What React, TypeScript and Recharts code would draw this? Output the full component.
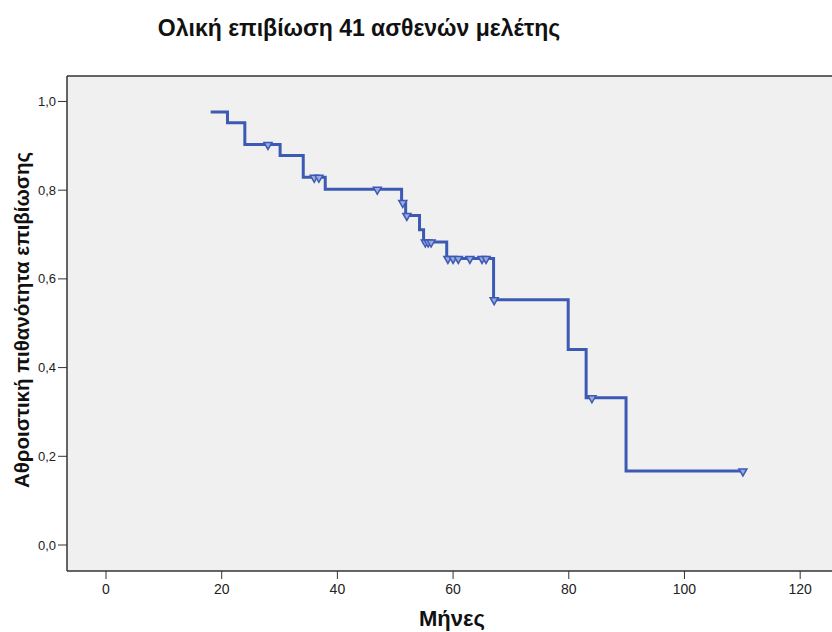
import { CartesianGrid, Label, Line, LineChart, ReferenceLine, XAxis, YAxis } from 'recharts';

const months = [
  18.1, 21.0, 24.0, 28.0, 30.1, 34.1, 36.0, 36.8, 37.9, 46.9, 51.1, 51.3, 51.8, 52.0, 54.2, 54.9,
  55.2, 55.7, 56.2, 58.9, 59.1, 60.0, 60.9, 62.9, 65.0, 65.7, 67.0, 67.1, 79.9, 83.0, 84.0, 89.9,
  110.1,
];
const survival = [
  0.976, 0.952, 0.903, 0.903, 0.878, 0.829, 0.829, 0.829, 0.802, 0.802, 0.772, 0.772, 0.743, 0.743,
  0.711, 0.683, 0.683, 0.683, 0.683, 0.646, 0.646, 0.646, 0.646, 0.646, 0.646, 0.646, 0.553, 0.553,
  0.441, 0.332, 0.332, 0.167, 0.167,
];
const censored = [
  false, false, false, true, false, false, true, true, false, true, false, true, false, true, false,
  false, true, true, true, false, true, true, true, true, true, true, false, true, false, false, true,
  false, true,
];
const xTicks = [0, 20, 40, 60, 80, 100, 120];
const yTicks = [0, 0.2, 0.4, 0.6, 0.8, 1.0];

const title = 'Ολική επιβίωση 41 ασθενών μελέτης';
const xLabel = 'Μήνες';
const yLabel = 'Αθροιστική πιθανότητα επιβίωσης';

const FONT = '"Liberation Sans", Arial, sans-serif';
const LINE = '#3c5ab4';
const FRAME = '#333333';

const data = months.map((m, i) => ({ month: m, survival: survival[i], censored: censored[i] }));

function CensorMark(props: any) {
  const { cx, cy, payload, index } = props;
  if (!payload || !payload.censored) return <g key={`d-${index}`} />;
  return (
    <path
      key={`d-${index}`}
      d={`M${cx - 4},${cy - 2} L${cx + 4},${cy - 2} L${cx},${cy + 5} Z`}
      stroke={LINE}
      strokeWidth={1.5}
      fill="#9aaadd"
    />
  );
}

export default function App() {
  return (
    <div style={{ position: 'absolute', left: 0, top: 0, width: 832, height: 632, background: '#fff' }}>
      <div
        style={{
          position: 'absolute',
          left: 0,
          width: 718,
          top: 15,
          textAlign: 'center',
          fontFamily: FONT,
          fontWeight: 'bold',
          fontSize: 23,
          lineHeight: 'normal',
          color: '#111',
        }}
      >
        {title}
      </div>
      <LineChart width={832} height={632} data={data} margin={{ top: 76, right: 0, left: 0, bottom: 0 }}>
        <CartesianGrid fill="#f0f0f0" horizontal={false} vertical={false} />
        <XAxis
          dataKey="month"
          type="number"
          domain={[-6.74, 125.5]}
          allowDataOverflow
          ticks={xTicks}
          height={61}
          axisLine={{ stroke: FRAME, strokeWidth: 1.5 }}
          tickLine={{ stroke: FRAME }}
          tickSize={8}
          tickMargin={5}
          tick={{ fill: '#222', fontSize: 14, fontFamily: FONT }}
        >
          <Label
            content={() => (
              <text x={452} y={626} textAnchor="middle" fontFamily={FONT} fontWeight="bold" fontSize={22} fill="#111">
                {xLabel}
              </text>
            )}
          />
        </XAxis>
        <YAxis
          type="number"
          domain={[-0.0586, 1.0574]}
          allowDataOverflow
          ticks={yTicks}
          width={67}
          axisLine={{ stroke: FRAME, strokeWidth: 1.5 }}
          tickLine={{ stroke: FRAME }}
          tickSize={9}
          tickMargin={2}
          tickFormatter={(v: number) => v.toFixed(1).replace('.', ',')}
          tick={{ fill: '#222', fontSize: 13, fontFamily: FONT }}
        >
          <Label
            content={() => (
              <text
                x={29}
                y={320}
                transform="rotate(-90 29 320)"
                textAnchor="middle"
                fontFamily={FONT}
                fontWeight="bold"
                fontSize={20.5}
                fill="#111"
              >
                {yLabel}
              </text>
            )}
          />
        </YAxis>
        <ReferenceLine y={1.0574} stroke={FRAME} strokeWidth={1.5} />
        <Line
          type="stepAfter"
          dataKey="survival"
          stroke={LINE}
          strokeWidth={3}
          dot={CensorMark}
          activeDot={false}
          isAnimationActive={false}
        />
      </LineChart>
    </div>
  );
}
